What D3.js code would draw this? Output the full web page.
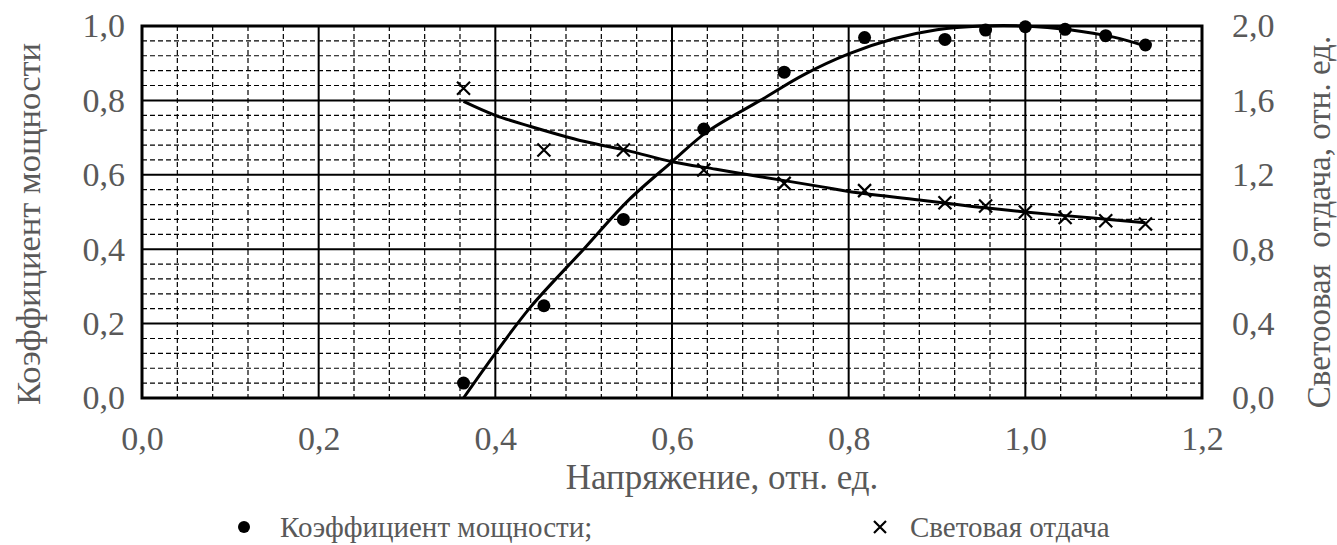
<!DOCTYPE html>
<html>
<head>
<meta charset="utf-8">
<script src="https://cdn.jsdelivr.net/npm/d3@7"></script>
<style>
  body { margin: 0; background: #fff; }
  text { font-family: "Liberation Serif", "Times New Roman", serif; fill: #595959; }
</style>
</head>
<body>
<div id="chart"></div>
<script>
// measured points (voltage, rel. units)
var voltage = [0.364, 0.455, 0.545, 0.636, 0.727, 0.818, 0.909, 0.955, 1.0, 1.045, 1.091, 1.136];
var powerFactor = [0.04, 0.248, 0.48, 0.723, 0.876, 0.969, 0.964, 0.989, 0.998, 0.991, 0.974, 0.949];
var lightOutput = [1.665, 1.333, 1.333, 1.226, 1.154, 1.115, 1.05, 1.032, 1.0, 0.97, 0.953, 0.935];

// trend lines
var pfTrendX = [0.364, 0.40, 0.44, 0.50, 0.55, 0.60, 0.64, 0.70, 0.75, 0.80, 0.85, 0.90, 0.95, 1.00, 1.05, 1.10, 1.136];
var pfTrendY = [0.0, 0.12, 0.245, 0.40, 0.53, 0.635, 0.716, 0.80, 0.87, 0.925, 0.965, 0.99, 1.0, 1.0, 0.99, 0.97, 0.946];
var lightTrendX = [0.364, 0.40, 0.44, 0.50, 0.55, 0.60, 0.65, 0.70, 0.77, 0.80, 0.88, 0.94, 1.00, 1.08, 1.136];
var lightTrendY = [1.595, 1.52, 1.46, 1.38, 1.33, 1.27, 1.23, 1.19, 1.135, 1.11, 1.065, 1.03, 1.0, 0.966, 0.942];

var xTicks = [0, 0.2, 0.4, 0.6, 0.8, 1.0, 1.2];
var yLeftTicks = [0, 0.2, 0.4, 0.6, 0.8, 1.0];
var yRightTicks = [0, 0.4, 0.8, 1.2, 1.6, 2.0];

var xTitle = "Напряжение, отн. ед.";
var yLeftTitle = "Коэффициент мощности";
var yRightTitle = "Светоовая  отдача, отн. ед.";
var legendNames = ["Коэффициент мощности;", "Световая отдача"];

var W = 1337, H = 545;
var margin = { top: 26, right: 135, bottom: 147, left: 142 };
var width = W - margin.left - margin.right;
var height = H - margin.top - margin.bottom;
var fmt = function (d) { return d3.format(".1f")(d).replace(".", ","); };

var svg = d3.select("#chart").append("svg")
  .attr("width", W).attr("height", H);
var g = svg.append("g")
  .attr("transform", "translate(" + margin.left + "," + margin.top + ")");

var x = d3.scaleLinear().domain([0, 1.2]).range([0, width]);
var y = d3.scaleLinear().domain([0, 1.0]).range([height, 0]);
var y2 = d3.scaleLinear().domain([0, 2.0]).range([height, 0]);

// minor grid (dashed)
var minorX = d3.range(0, 1.2001, 0.04).filter(function (d) { return Math.abs(d / 0.2 - Math.round(d / 0.2)) > 1e-6; });
var minorY = d3.range(0, 1.0001, 0.04).filter(function (d) { return Math.abs(d / 0.2 - Math.round(d / 0.2)) > 1e-6; });
g.append("g").selectAll("line").data(minorX).join("line")
  .attr("x1", function (d) { return x(d); }).attr("x2", function (d) { return x(d); })
  .attr("y1", 0).attr("y2", height)
  .attr("stroke", "#000").attr("stroke-width", 1.2).attr("stroke-dasharray", "5,3");
g.append("g").selectAll("line").data(minorY).join("line")
  .attr("y1", function (d) { return y(d); }).attr("y2", function (d) { return y(d); })
  .attr("x1", 0).attr("x2", width)
  .attr("stroke", "#000").attr("stroke-width", 1.2).attr("stroke-dasharray", "5,3");

// major grid
g.append("g").selectAll("line").data(xTicks).join("line")
  .attr("x1", function (d) { return x(d); }).attr("x2", function (d) { return x(d); })
  .attr("y1", 0).attr("y2", height)
  .attr("stroke", "#000").attr("stroke-width", 2);
g.append("g").selectAll("line").data(yLeftTicks).join("line")
  .attr("y1", function (d) { return y(d); }).attr("y2", function (d) { return y(d); })
  .attr("x1", 0).attr("x2", width)
  .attr("stroke", "#000").attr("stroke-width", 2);

// border
g.append("rect").attr("width", width).attr("height", height)
  .attr("fill", "none").attr("stroke", "#000").attr("stroke-width", 3);

// axes
var axB = g.append("g").attr("transform", "translate(0," + height + ")")
  .call(d3.axisBottom(x).tickValues(xTicks).tickFormat(fmt).tickSize(0).tickPadding(28));
var axL = g.append("g")
  .call(d3.axisLeft(y).tickValues(yLeftTicks).tickFormat(fmt).tickSize(0).tickPadding(17));
var axR = g.append("g").attr("transform", "translate(" + width + ",0)")
  .call(d3.axisRight(y2).tickValues(yRightTicks).tickFormat(fmt).tickSize(0).tickPadding(30));
[axB, axL, axR].forEach(function (a) {
  a.select(".domain").remove();
  a.selectAll("text").attr("font-size", 34).attr("fill", "#595959")
    .attr("font-family", "Liberation Serif, Times New Roman, serif");
});

// titles
svg.append("text").attr("x", 722).attr("y", 489)
  .attr("text-anchor", "middle").attr("font-size", 35).text(xTitle);
svg.append("text")
  .attr("transform", "translate(40,224) rotate(-90)")
  .attr("text-anchor", "middle").attr("font-size", 34.5).text(yLeftTitle);
svg.append("text")
  .attr("transform", "translate(1330,222) rotate(-90)")
  .attr("text-anchor", "middle").attr("font-size", 33).attr("xml:space", "preserve")
  .style("white-space", "pre").text(yRightTitle);

// trend lines
var pfTrend = pfTrendX.map(function (d, i) { return [d, pfTrendY[i]]; });
var lightTrend = lightTrendX.map(function (d, i) { return [d, lightTrendY[i]]; });
g.append("path").datum(pfTrend)
  .attr("fill", "none").attr("stroke", "#000").attr("stroke-width", 3)
  .attr("d", d3.line().curve(d3.curveCatmullRom)
    .x(function (d) { return x(d[0]); }).y(function (d) { return y(d[1]); }));
g.append("path").datum(lightTrend)
  .attr("fill", "none").attr("stroke", "#000").attr("stroke-width", 3)
  .attr("d", d3.line().curve(d3.curveCatmullRom)
    .x(function (d) { return x(d[0]); }).y(function (d) { return y2(d[1]); }));

// markers
var cross = function (s) { return "M" + -s + "," + -s + "L" + s + "," + s + "M" + s + "," + -s + "L" + -s + "," + s; };
g.append("g").selectAll("circle").data(voltage).join("circle")
  .attr("cx", function (d) { return x(d); })
  .attr("cy", function (d, i) { return y(powerFactor[i]); })
  .attr("r", 6.5).attr("fill", "#000");
g.append("g").selectAll("path").data(voltage).join("path")
  .attr("transform", function (d, i) { return "translate(" + x(d) + "," + y2(lightOutput[i]) + ")"; })
  .attr("d", cross(6.5)).attr("stroke", "#000").attr("stroke-width", 2.2).attr("fill", "none");

// legend
var lg = svg.append("g");
lg.append("circle").attr("cx", 244).attr("cy", 527).attr("r", 6).attr("fill", "#000");
lg.append("text").attr("x", 280).attr("y", 537).attr("font-size", 29).text(legendNames[0]);
lg.append("path").attr("transform", "translate(880,527)").attr("d", cross(6))
  .attr("stroke", "#000").attr("stroke-width", 2.2).attr("fill", "none");
lg.append("text").attr("x", 910).attr("y", 537).attr("font-size", 29).text(legendNames[1]);
</script>
</body>
</html>
